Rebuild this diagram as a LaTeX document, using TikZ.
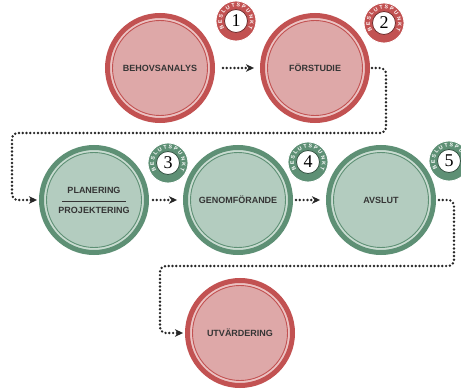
\documentclass[tikz,border=0pt]{standalone}
\usepackage{fontspec}
\setmainfont{Liberation Sans}
\newfontfamily\numfont{Liberation Serif}
\usetikzlibrary{arrows.meta,decorations.text}
\definecolor{rdark}{HTML}{C25252}
\definecolor{rfill}{HTML}{DEA8A8}
\definecolor{rlight}{HTML}{EBC3C3}
\definecolor{gdark}{HTML}{5E9075}
\definecolor{gfill}{HTML}{B3CCBF}
\definecolor{glight}{HTML}{C9DCD1}
\definecolor{txt}{HTML}{353535}
\begin{document}
\begin{tikzpicture}[x=1pt,y=1pt,
  phase/.style={circle, minimum size=105pt, line width=5pt, inner sep=0pt,
    font=\bfseries\fontsize{9}{12}\selectfont, text=txt, align=center},
  redphase/.style={phase, draw=rdark, fill=rlight,
    path picture={\draw[rdark, line width=0.9pt, fill=rfill] (path picture bounding box.center) circle (47.5pt);}},
  greenphase/.style={phase, draw=gdark, fill=glight,
    path picture={\draw[gdark, line width=0.9pt, fill=gfill] (path picture bounding box.center) circle (47.5pt);}},
  badge/.style={circle, minimum size=40pt, inner sep=0pt, draw=white, line width=0.8pt,
    font=\numfont\fontsize{18}{18}\selectfont, text=black},
  redbadge/.style={badge, fill=rdark,
    path picture={\draw[rdark!60!black, line width=0.8pt, fill=white] (path picture bounding box.center) circle (11.5pt);}},
  greenbadge/.style={badge, fill=gdark,
    path picture={\draw[gdark!60!black, line width=0.8pt, fill=white] (path picture bounding box.center) circle (11.5pt);}},
  btext/.style={decorate, decoration={text along path,
    text={|\fontsize{5.3}{5.3}\selectfont\bfseries\color{white}|BESLUTSPUNKT}, text align={fit to path}}},
  conn/.style={draw=black!85, line width=2.7pt, dash pattern=on 0pt off 3.8pt, line cap=round,
    rounded corners=6pt, -{Stealth[length=8pt,width=7.5pt,inset=2.5pt,line width=0.4pt]}}
]
\useasboundingbox (0,0) rectangle (461,389);

% phases
\node[redphase] (c1) at (160,321) {BEHOVSANALYS};
\node[redphase] (c2) at (315,321) {FÖRSTUDIE};
\node[greenphase] (c3) at (94,189) {PLANERING\\[-3pt]\rule{64pt}{1.4pt}\\[-1pt]PROJEKTERING};
\node[greenphase] (c4) at (238,189) {GENOMFÖRANDE};
\node[greenphase] (c5) at (381,189) {AVSLUT};
\node[redphase] (c6) at (240,56) {UTVÄRDERING};

% decision points
\node[redbadge] (b1) at (236,368) {1};
\node[redbadge] (b2) at (384,366) {2};
\node[greenbadge] (b3) at (168,226) {3};
\node[greenbadge] (b4) at (308,227) {4};
\node[greenbadge] (b5) at (449,228) {5};
\foreach \b in {b1,b2,b3,b4,b5}
  \path[btext] ([shift={(212:14)}]\b.center) arc[start angle=212, end angle=-32, radius=14];

% connectors
\draw[conn] ([xshift=8pt]c1.east) -- ([xshift=-6pt]c2.west);
\draw[conn] ([xshift=2pt]c2.east) -- (386,321) -- (386,256) -- (12,256) -- (12,189) -- ([xshift=-2pt]c3.west);
\draw[conn] ([xshift=4pt]c3.east) -- ([xshift=-6pt]c4.west);
\draw[conn] ([xshift=3pt]c4.east) -- ([xshift=-6pt]c5.west);
\draw[conn] ([xshift=3pt]c5.east) -- (454,189) -- (454,123) -- (160,123) -- (160,56) -- ([xshift=-2pt]c6.west);
\end{tikzpicture}
\end{document}
